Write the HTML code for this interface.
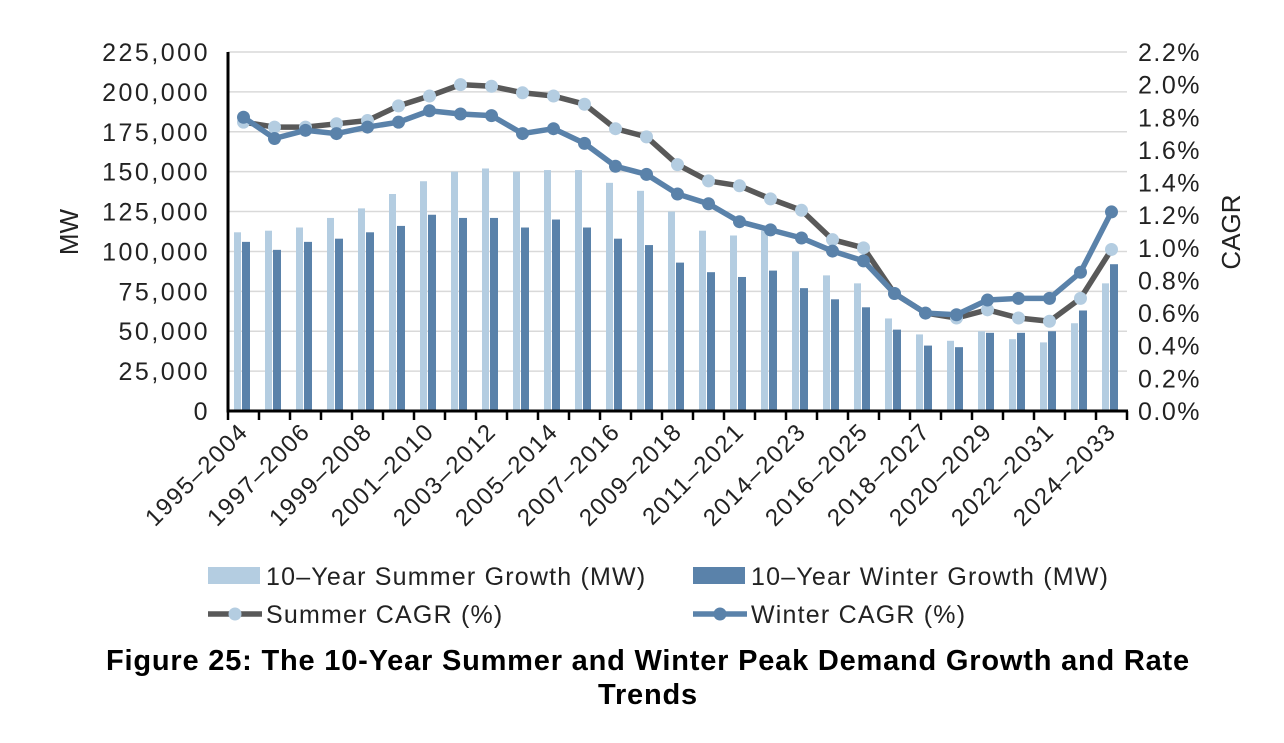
<!DOCTYPE html>
<html><head><meta charset="utf-8"><style>
body{margin:0;background:#fff;width:1284px;height:738px;overflow:hidden;font-family:"Liberation Sans",sans-serif}
</style></head><body>
<svg id="chart" width="1284" height="738" xmlns="http://www.w3.org/2000/svg"></svg>
<script>
const categories=["1995–2004","1996–2005","1997–2006","1998–2007","1999–2008","2000–2009","2001–2010","2002–2011","2003–2012","2004–2013","2005–2014","2006–2015","2007–2016","2008–2017","2009–2018","2010–2020","2011–2021","2013–2022","2014–2023","2015–2024","2016–2025","2017–2026","2018–2027","2019–2028","2020–2029","2021–2030","2022–2031","2023–2032","2024–2033"];
const summerMW=[112,113,115,121,127,136,144,150,152,150,151,151,143,138,125,113,110,113,100,85,80,58,48,44,50,45,43,55,80];
const winterMW=[106,101,106,108,112,116,123,121,121,115,120,115,108,104,93,87,84,88,77,70,65,51,41,40,49,49,50,63,92];
const summerCAGR=[1.77,1.74,1.74,1.76,1.78,1.87,1.93,2.00,1.99,1.95,1.93,1.88,1.73,1.68,1.51,1.41,1.38,1.30,1.23,1.05,1.00,0.72,0.60,0.57,0.62,0.57,0.55,0.69,0.99];
const winterCAGR=[1.80,1.67,1.72,1.70,1.74,1.77,1.84,1.82,1.81,1.70,1.73,1.64,1.50,1.45,1.33,1.27,1.16,1.11,1.06,0.98,0.92,0.72,0.60,0.59,0.68,0.69,0.69,0.85,1.22];
const leftTicks=["0","25,000","50,000","75,000","100,000","125,000","150,000","175,000","200,000","225,000"];
const rightTicks=["0.0%","0.2%","0.4%","0.6%","0.8%","1.0%","1.2%","1.4%","1.6%","1.8%","2.0%","2.2%"];

const svg=document.getElementById('chart');
const NS='http://www.w3.org/2000/svg';
const X0=228,X1=1127,Y0=411,Y1=52;
const cw=(X1-X0)/categories.length;
const yL=v=>Y0-(v*1000)/225000*(Y0-Y1);
const yR=v=>Y0-v/2.2*(Y0-Y1);
const xC=i=>X0+cw*(i+0.5);
function mk(tag,attrs,parent){const e=document.createElementNS(NS,tag);for(const k in attrs)e.setAttribute(k,attrs[k]);(parent||svg).appendChild(e);return e;}
const F='"Liberation Sans",sans-serif';

leftTicks.forEach((t,i)=>{
  const y=Y0-i*(Y0-Y1)/9;
  if(i>0){const g=mk('line',{x1:X0,x2:X1,y1:y,y2:y,stroke:'#d9d9d9','stroke-width':1.5});
  
  }
  const tx=mk('text',{x:210,y:y+9,'text-anchor':'end','font-size':25,'letter-spacing':2.5,fill:'#222','font-family':F});
  tx.textContent=t;
  
  
});
rightTicks.forEach((t,i)=>{
  const y=Y0-i*(Y0-Y1)/11;
  const tx=mk('text',{x:1138,y:y+9,'font-size':25,'letter-spacing':1.5,fill:'#222','font-family':F});
  tx.textContent=t;
  
  
});
categories.forEach((c,i)=>{
  const xs=X0+cw*i;
  const b1=mk('rect',{x:xs+6,y:yL(summerMW[i]),width:7,height:Y0-yL(summerMW[i]),fill:'#b4cde1'});
  
  
  const b2=mk('rect',{x:xs+14,y:yL(winterMW[i]),width:8,height:Y0-yL(winterMW[i]),fill:'#5a82aa'});
  
  
});
const ax=mk('path',{d:`M${X0},${Y1} V${Y0} H${X1+1}`,stroke:'#000','stroke-width':3,fill:'none'});


for(let i=0;i<=categories.length;i++){
  const t=mk('line',{x1:X0+cw*i,x2:X0+cw*i,y1:Y0,y2:Y0+9,stroke:'#000','stroke-width':2.5});
  
  
}
categories.forEach((c,i)=>{
  if(i%2)return;
  const x=xC(i)+6,y=Y0+22;
  const tx=mk('text',{x:x,y:y,'text-anchor':'end','font-size':24,'letter-spacing':1.5,fill:'#222','font-family':F,transform:`rotate(-45 ${x} ${y})`});
  tx.textContent=c;
  
  
});
function line(vals,stroke,dotFill,name){
  const d=vals.map((v,i)=>(i?'L':'M')+xC(i)+','+yR(v)).join(' ');
  const p=mk('path',{d:d,stroke:stroke,'stroke-width':5.5,fill:'none','stroke-linejoin':'round'});
  
  
  vals.forEach((v,i)=>{
    const c=mk('circle',{cx:xC(i),cy:yR(v),r:6.5,fill:dotFill});
    
    
  });
}
line(summerCAGR,'#595959','#b4cde1','summer-cagr');
line(winterCAGR,'#5a82aa','#5a82aa','winter-cagr');
const yt=mk('text',{x:78,y:232,'text-anchor':'middle','font-size':26,fill:'#222','font-family':F,transform:'rotate(-90 78 232)'});
yt.textContent='MW';


const yt2=mk('text',{x:1240,y:232,'text-anchor':'middle','font-size':26,fill:'#222','font-family':F,transform:'rotate(-90 1240 232)'});
yt2.textContent='CAGR';


function legText(x,y,t,name){const e=mk('text',{x:x,y:y,'font-size':25,'letter-spacing':1.2,fill:'#222','font-family':F});e.textContent=t;
  
  }
let r=mk('rect',{x:208,y:567,width:52,height:17,fill:'#b4cde1'});


legText(266,585,'10–Year Summer Growth (MW)','legend-summer-bar-label');
r=mk('rect',{x:693,y:567,width:52,height:17,fill:'#5a82aa'});


legText(751,585,'10–Year Winter Growth (MW)','legend-winter-bar-label');
let l=mk('line',{x1:208,x2:262,y1:614,y2:614,stroke:'#595959','stroke-width':5.5});


let c=mk('circle',{cx:235,cy:614,r:6.5,fill:'#b4cde1'});


legText(266,623,'Summer CAGR (%)','legend-summer-line-label');
l=mk('line',{x1:693,x2:747,y1:614,y2:614,stroke:'#5a82aa','stroke-width':5.5});


c=mk('circle',{cx:720,cy:614,r:6.5,fill:'#5a82aa'});


legText(751,623,'Winter CAGR (%)','legend-winter-line-label');
function cap(y,t){const e=mk('text',{x:648,y:y,'text-anchor':'middle','font-size':29,'letter-spacing':0.8,'font-weight':'bold',fill:'#000','font-family':F});e.textContent=t;
  
  }
cap(670,'Figure 25: The 10-Year Summer and Winter Peak Demand Growth and Rate');
cap(704,'Trends');
</script>
</body></html>
